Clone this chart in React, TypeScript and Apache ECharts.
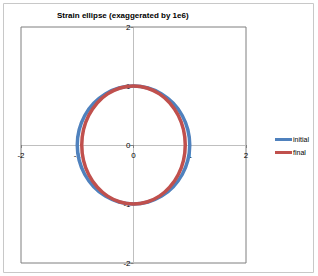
import React, { useEffect, useRef } from "react";
import * as echarts from "echarts";

const titleText = "Strain ellipse (exaggerated by 1e6)";
const seriesNames = ["initial", "final"];
const initialX = [1, 0.966, 0.866, 0.707, 0.5, 0.259, 0, -0.259, -0.5, -0.707, -0.866, -0.966, -1, -0.966, -0.866, -0.707, -0.5, -0.259, 0, 0.259, 0.5, 0.707, 0.866, 0.966, 1];
const initialY = [0, 0.259, 0.5, 0.707, 0.866, 0.966, 1, 0.966, 0.866, 0.707, 0.5, 0.259, 0, -0.259, -0.5, -0.707, -0.866, -0.966, -1, -0.966, -0.866, -0.707, -0.5, -0.259, 0];
const finalX = [0.92, 0.889, 0.797, 0.65, 0.46, 0.238, 0, -0.238, -0.46, -0.65, -0.797, -0.889, -0.92, -0.889, -0.797, -0.65, -0.46, -0.238, 0, 0.238, 0.46, 0.65, 0.797, 0.889, 0.92];
const finalY = [0, 0.259, 0.5, 0.707, 0.866, 0.966, 1, 0.966, 0.866, 0.707, 0.5, 0.259, 0, -0.259, -0.5, -0.707, -0.866, -0.966, -1, -0.966, -0.866, -0.707, -0.5, -0.259, 0];

const GRID_W = 225;
const GRID_H = 236;

export default function App() {
  const ref = useRef<HTMLDivElement>(null);
  useEffect(() => {
    const chart = echarts.init(ref.current!, null, { renderer: "svg" });
    const font = "'Liberation Sans', Arial, sans-serif";
    const axisCommon = {
      type: "value" as const,
      min: -2,
      max: 2,
      interval: 1,
      splitLine: { show: false },
      axisLine: { onZero: false, lineStyle: { color: "#bfbfbf", width: 1 } },
      axisTick: { show: true, length: 3, lineStyle: { color: "#7f7f7f" } },
    };
    chart.setOption({
      animation: false,
      title: {
        text: titleText,
        left: 52,
        top: 6,
        textStyle: { fontSize: 8, fontWeight: "bold", fontFamily: font, color: "#000" },
      },
      graphic: [
        {
          type: "rect",
          shape: { x: 3.5, y: 3.5, width: 310, height: 269 },
          style: { fill: "none", stroke: "#c8c8c8", lineWidth: 1 },
          silent: true,
        },
      ],
      grid: {
        left: 21,
        top: 27,
        width: GRID_W,
        height: GRID_H,
        show: true,
        borderColor: "#7f7f7f",
        borderWidth: 1,
        containLabel: false,
      },
      xAxis: {
        ...axisCommon,
        position: "bottom",
        offset: -GRID_H / 2,
        axisLabel: { color: "#000", fontSize: 8, fontFamily: font, margin: 6 },
      },
      yAxis: {
        ...axisCommon,
        position: "left",
        offset: -GRID_W / 2,
        axisLabel: { color: "#000", fontSize: 8, fontFamily: font, margin: 3 },
      },
      legend: {
        orient: "vertical",
        left: 270,
        top: 131,
        icon: "rect",
        itemWidth: 17,
        itemHeight: 3,
        itemGap: 6,
        textStyle: { fontSize: 7, fontFamily: font, color: "#000", padding: [0, 0, 0, -4] },
        data: seriesNames,
      },
      series: [
        {
          name: seriesNames[0],
          type: "line",
          smooth: true,
          showSymbol: false,
          lineStyle: { color: "#4F81BD", width: 3.5 },
          itemStyle: { color: "#4F81BD" },
          data: initialX.map((x, i) => [x, initialY[i]]),
        },
        {
          name: seriesNames[1],
          type: "line",
          smooth: true,
          showSymbol: false,
          lineStyle: { color: "#C0504D", width: 3.5 },
          itemStyle: { color: "#C0504D" },
          data: finalX.map((x, i) => [x, finalY[i]]),
        },
      ],
    });
    return () => chart.dispose();
  }, []);
  return (
    <div
      ref={ref}
      style={{ position: "fixed", left: 0, top: 0, width: 318, height: 276, background: "#fff" }}
    />
  );
}
